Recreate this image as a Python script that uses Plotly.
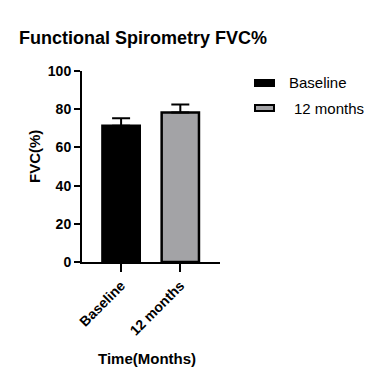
import plotly.graph_objects as go

categories = ["Baseline", "12 months"]
means = [71.3, 78.3]
sem = [4.0, 4.2]
fill_colors = ["#000000", "#a3a3a6"]
y_ticks = [0, 20, 40, 60, 80, 100]

# page body has an 8px margin; compensate so the figure lands where the reference has it
OFF = 8
W, H = 372 - OFF, 381 - OFF
L, R, T, B = 82 - OFF, 160 - OFF, 71 - OFF, 119
PW, PH = W - L - R, H - T - B

def px(x):
    return (x - OFF - L) / PW

def py(y):
    return (H - B - (y - OFF)) / PH

FONT = "Liberation Sans, Arial, sans-serif"

fig = go.Figure()
fig.add_trace(go.Bar(
    x=categories, y=means,
    marker=dict(color=fill_colors, line=dict(color="black", width=2.5)),
    width=0.63,
    error_y=dict(type="data", array=sem, arrayminus=[0, 0], symmetric=False,
                 color="black", thickness=2, width=9),
    showlegend=False,
))

fig.update_layout(
    width=W, height=H,
    margin=dict(l=L, r=R, t=T, b=B, pad=0),
    paper_bgcolor="white", plot_bgcolor="white",
    xaxis=dict(range=[-0.66, 1.67], showline=True, linecolor="black", linewidth=2,
               ticks="outside", ticklen=8, tickwidth=2, tickcolor="black",
               tickangle=-45, showgrid=False, zeroline=False,
               tickfont=dict(family=FONT, size=14, color="black", weight="bold")),
    yaxis=dict(range=[0, 100], tickvals=y_ticks, showline=True, linecolor="black",
               linewidth=2, ticks="outside", ticklen=6, tickwidth=2, tickcolor="black",
               showgrid=False, zeroline=False,
               tickfont=dict(family=FONT, size=14, color="black", weight="bold")),
    font=dict(family=FONT, color="black"),
)

ann = []
ann.append(dict(text="<b>Functional Spirometry FVC%</b>", x=px(17), y=py(38), xref="paper", yref="paper",
                xanchor="left", yanchor="middle", showarrow=False, font=dict(size=18, family=FONT)))
ann.append(dict(text="<b>FVC(%)</b>", x=px(34), y=py(157), xref="paper", yref="paper", textangle=-90,
                xanchor="center", yanchor="middle", showarrow=False, font=dict(size=15, family=FONT)))
ann.append(dict(text="<b>Time(Months)</b>", x=px(147), y=py(358), xref="paper", yref="paper",
                xanchor="center", yanchor="middle", showarrow=False, font=dict(size=15, family=FONT)))

# legend (drawn manually)
legend_rows = [83, 108]
legend_text_x = [287, 292]
shapes = []
for i, name in enumerate(categories):
    yc = legend_rows[i]
    shapes.append(dict(type="rect", xref="paper", yref="paper",
                       x0=px(255), x1=px(274), y0=py(yc - 3), y1=py(yc + 3),
                       fillcolor=fill_colors[i], line=dict(color="black", width=2)))
    ann.append(dict(text=name, x=px(legend_text_x[i]), y=py(yc), xref="paper", yref="paper",
                    xanchor="left", yanchor="middle", showarrow=False,
                    font=dict(size=15, family=FONT, color="black")))

fig.update_layout(annotations=ann, shapes=shapes)
fig.write_html("out.html")
